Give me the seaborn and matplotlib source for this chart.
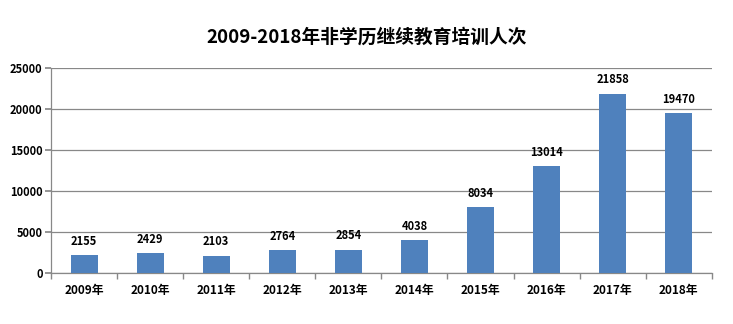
import matplotlib
matplotlib.use("Agg")
import matplotlib.pyplot as plt
import seaborn as sns
import pandas as pd

years = ["2009年", "2010年", "2011年", "2012年", "2013年", "2014年", "2015年", "2016年", "2017年", "2018年"]
counts = [2155, 2429, 2103, 2764, 2854, 4038, 8034, 13014, 21858, 19470]
yticks = [0, 5000, 10000, 15000, 20000, 25000]
title = "2009-2018年非学历继续教育培训人次"

sns.set_theme(style="white")
plt.rcParams['font.family'] = ['Noto Sans CJK SC', 'DejaVu Sans']
plt.rcParams['text.color'] = 'black'
plt.rcParams['xtick.color'] = 'black'
plt.rcParams['ytick.color'] = 'black'

df = pd.DataFrame({"year": years, "count": counts})

fig = plt.figure(figsize=(7.33, 3.24), dpi=100)
ax = fig.add_axes([0.0696, 0.157, 0.9014, 0.633])
sns.barplot(data=df, x="year", y="count", color="#4F81BD", saturation=1, width=0.41,
            linewidth=0, ax=ax, zorder=3)

ax.set_ylim(0, 25000)
ax.set_yticks(yticks)
ax.set_yticklabels([str(v) for v in yticks], fontsize=8, fontweight="bold")
ax.set_xlim(-0.5, len(years) - 0.5)
ax.set_xticks(range(len(years)))
ax.set_xticklabels(years, fontsize=8.5, fontweight="bold")
ax.tick_params(axis="x", length=0, pad=8, labelcolor="black")
ax.tick_params(axis="y", length=4, color="#888888", left=True, pad=2, labelcolor="black")
ax.set_xticks([i + 0.5 for i in range(-1, len(years))], minor=True)
ax.tick_params(axis="x", which="minor", length=4, color="#888888", bottom=True)
ax.set_xlabel("")
ax.set_ylabel("")
ax.grid(axis="y", color="#888888", linewidth=0.9, zorder=0)
for s in ["top", "right"]:
    ax.spines[s].set_visible(False)
for s in ["left", "bottom"]:
    ax.spines[s].set_color("#888888")
    ax.spines[s].set_linewidth(0.9)

for i, v in enumerate(counts):
    ax.text(i, v + 900, str(v), ha="center", va="bottom", fontsize=8, fontweight="bold", color="black")

fig.text(0.5, 0.885, title, ha="center", va="center", fontsize=13.5, fontweight="bold", color="black")

fig.savefig("out.png", dpi=100)
